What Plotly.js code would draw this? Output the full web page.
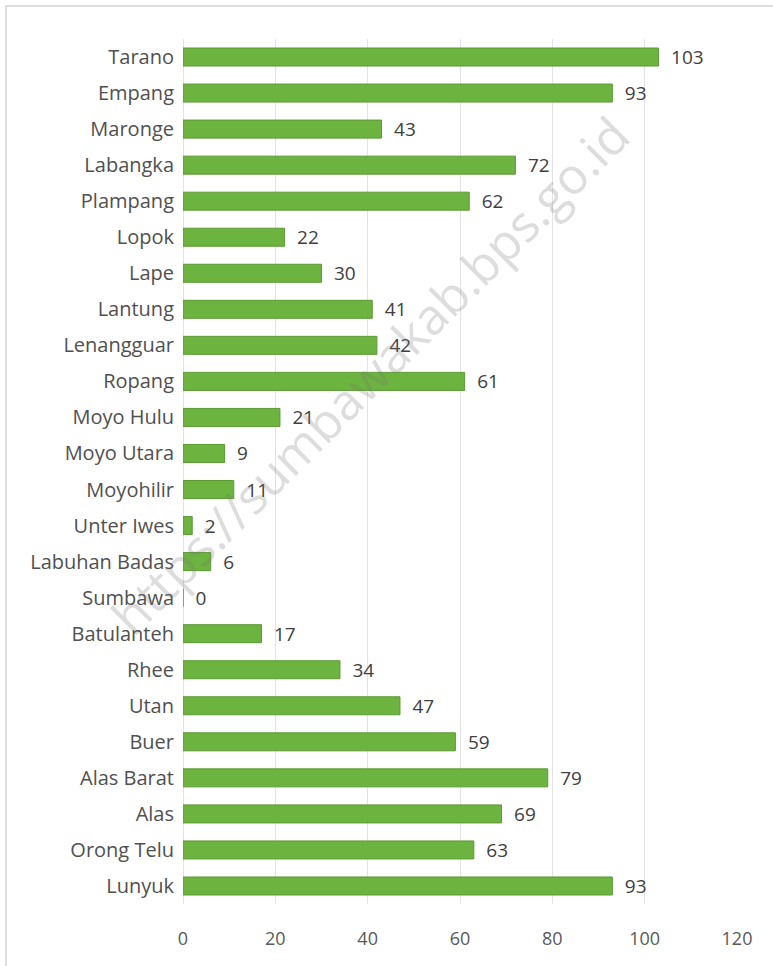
<!DOCTYPE html>
<html>
<head>
<meta charset="utf-8">
<script src="https://cdn.plot.ly/plotly-3.0.1.min.js"></script>
<style>
html,body{margin:0;padding:0;background:#fff;}
#wrap{position:relative;width:773px;height:966px;}
#chart{width:773px;height:966px;}
#frame{position:absolute;left:5px;top:5px;width:770px;height:963px;border-top:2px solid #dedede;border-left:2px solid #dedede;pointer-events:none;}
</style>
</head>
<body>
<div id="wrap"><div id="chart"></div><div id="frame"></div></div>
<script>
const categories = ["Tarano","Empang","Maronge","Labangka","Plampang","Lopok","Lape","Lantung","Lenangguar","Ropang","Moyo Hulu","Moyo Utara","Moyohilir","Unter Iwes","Labuhan Badas","Sumbawa","Batulanteh","Rhee","Utan","Buer","Alas Barat","Alas","Orong Telu","Lunyuk"];
const values = [103,93,43,72,62,22,30,41,42,61,21,9,11,2,6,0,17,34,47,59,79,69,63,93];
const xTicks = [0,20,40,60,80,100,120];

const trace = {
  type: 'bar',
  orientation: 'h',
  y: categories,
  x: values,
  width: 0.5,
  marker: {color: '#6cb33f', line: {color: '#5c9a34', width: 1}},
  text: values.map(v => '\u2002' + v),
  textposition: 'outside',
  constraintext: 'none',
  cliponaxis: false,
  textfont: {family: '"Open Sans", sans-serif', size: 19, color: '#404040'},
  hoverinfo: 'none'
};

const layout = {
  width: 773, height: 966,
  margin: {l: 183, r: 36, t: 39, b: 62},
  paper_bgcolor: '#ffffff',
  plot_bgcolor: '#ffffff',
  showlegend: false,
  font: {family: '"Open Sans", sans-serif', color: '#595959'},
  xaxis: {
    range: [0, 120],
    tickvals: xTicks,
    ticktext: xTicks.map(String),
    showgrid: true, gridcolor: '#e3e3e3', gridwidth: 1,
    zeroline: true, zerolinecolor: '#e3e3e3', zerolinewidth: 1,
    showline: false, ticks: '',
    ticklabelstandoff: 22,
    tickfont: {family: '"Open Sans", sans-serif', size: 18, color: '#595959'}
  },
  yaxis: {
    type: 'category',
    autorange: 'reversed',
    showgrid: false, zeroline: false, showline: false, ticks: '',
    ticklabelstandoff: 8,
    tickfont: {family: '"Open Sans", sans-serif', size: 20, color: '#505050'}
  },
  annotations: [{
    xref: 'paper', yref: 'paper',
    x: (370 - 183) / 554, y: (904 - 375) / 865,
    text: 'https://sumbawakab.bps.go.id',
    showarrow: false,
    textangle: -45,
    font: {family: '"Open Sans", sans-serif', size: 50, color: 'rgba(120,120,120,0.25)'}
  }]
};

Plotly.newPlot('chart', [trace], layout, {staticPlot: true});
</script>
</body>
</html>
